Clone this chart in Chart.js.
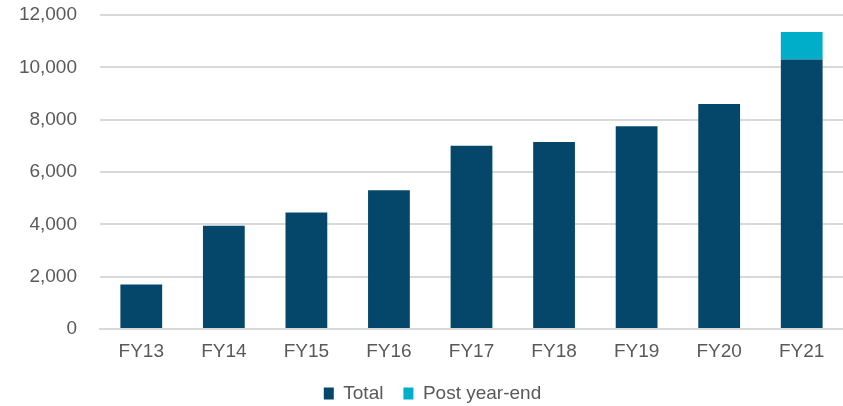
<!DOCTYPE html>
<html>
<head>
<meta charset="utf-8">
<script src="https://cdn.jsdelivr.net/npm/chart.js@4"></script>
<style>
  html, body { margin: 0; padding: 0; background: #fff; }
  #wrap { width: 843px; height: 406px; }
</style>
</head>
<body>
<div id="wrap"><canvas id="chart"></canvas></div>
<script>
const years = ['FY13', 'FY14', 'FY15', 'FY16', 'FY17', 'FY18', 'FY19', 'FY20', 'FY21'];
const total = [1700, 3950, 4450, 5300, 7000, 7150, 7750, 8600, 10300];
const postYearEnd = [0, 0, 0, 0, 0, 0, 0, 0, 1050];
const yTicks = [0, 2000, 4000, 6000, 8000, 10000, 12000];

const canvas = document.querySelector('#chart');
const labelFont = { family: 'Liberation Sans, Arial', size: 19 };

// legend padding gives the gap between items, but it also makes the box tall
const legendHeight = {
    id: 'legendHeight',
    afterInit(chart) {
        const legend = chart.legend;
        const fit = legend.fit;
        legend.fit = function () {
            fit.call(this);
            this.height = 42;
        };
    }
};

new Chart(canvas.getContext('2d'), {
    type: 'bar',
    data: {
        labels: years,
        datasets: [
            {
                label: 'Total',
                data: total,
                backgroundColor: '#04476A',
                barPercentage: 0.506,
                categoryPercentage: 1
            },
            {
                label: 'Post year-end',
                data: postYearEnd,
                backgroundColor: '#00AECA',
                barPercentage: 0.506,
                categoryPercentage: 1
            }
        ]
    },
    options: {
        responsive: true,
        maintainAspectRatio: false,
        animation: false,
        layout: { padding: { left: 18, right: -4, top: 15, bottom: 0 } },
        plugins: {
            legend: {
                position: 'bottom',
                labels: {
                    boxWidth: 10,
                    boxHeight: 12,
                    padding: 20,
                    color: '#595959',
                    font: labelFont
                }
            },
            tooltip: { enabled: false }
        },
        scales: {
            x: {
                stacked: true,
                afterFit: axis => { axis.height = 35; },
                grid: { display: false, drawTicks: false },
                border: { color: '#d9d9d9', width: 2 },
                ticks: {
                    color: '#595959',
                    padding: 11,
                    font: labelFont
                }
            },
            y: {
                stacked: true,
                min: 0,
                max: 12000,
                afterBuildTicks: axis => { axis.ticks = yTicks.map(v => ({ value: v })); },
                // keep the label gap without the extra space chart.js adds around it
                afterFit: axis => {
                    axis.width = 82;
                    axis.paddingTop = 0;
                    axis.paddingBottom = 0;
                },
                grid: { color: '#d9d9d9', lineWidth: 2, drawTicks: false },
                border: { display: false },
                ticks: {
                    color: '#595959',
                    padding: 23,
                    font: labelFont,
                    callback: v => v.toLocaleString('en-US')
                }
            }
        }
    },
    plugins: [legendHeight]
});
</script>
</body>
</html>
